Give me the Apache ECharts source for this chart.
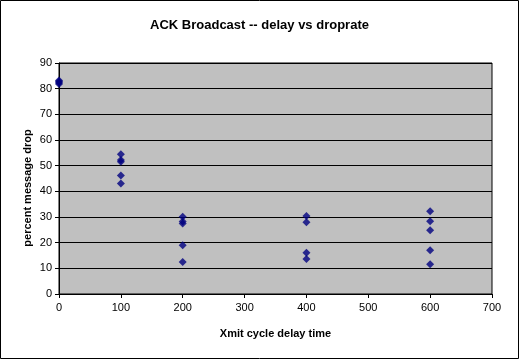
<!DOCTYPE html>
<html><head><meta charset="utf-8">
<script src="https://cdn.jsdelivr.net/npm/echarts@6/dist/echarts.min.js"></script>
<style>html,body{margin:0;padding:0;background:#fff}#c{width:519px;height:359px}</style>
</head><body><div id="c"></div>
<script>
const xs0 = [0, 0, 0, 0];
const ys0 = [81.8, 82.3, 82.8, 83.2];
const xs100 = [100, 100, 100, 100, 100];
const ys100 = [54.4, 52.2, 51.5, 46.2, 43.1];
const xs200 = [200, 200, 200, 200, 200];
const ys200 = [30.1, 28.2, 27.5, 19.0, 12.5];
const xs400 = [400, 400, 400, 400];
const ys400 = [30.4, 28.0, 16.1, 13.6];
const xs600 = [600, 600, 600, 600, 600];
const ys600 = [32.2, 28.3, 24.8, 17.0, 11.6];
const titleText = 'ACK Broadcast -- delay vs droprate';
const xTitle = 'Xmit cycle delay time';
const yTitle = 'percent message drop';

const pts = [];
[[xs0,ys0],[xs100,ys100],[xs200,ys200],[xs400,ys400],[xs600,ys600]].forEach(([a,b])=>{
  a.forEach((x,i)=>pts.push([x,b[i]]));
});
const F = 'Liberation Sans, Arial, sans-serif';
const chart = echarts.init(document.getElementById('c'), null, {renderer:'canvas'});
chart.setOption({
  animation:false,
  backgroundColor:'#fff',
  title:{text:titleText,left:'center',top:14,textStyle:{fontFamily:F,fontSize:13,fontWeight:'bold',color:'#000'}},
  grid:{left:59,right:27,top:63,bottom:65,show:true,backgroundColor:'#C0C0C0',borderColor:'#000',borderWidth:1},
  xAxis:{type:'value',min:0,max:700,interval:100,
    name:xTitle,nameLocation:'middle',nameGap:34,
    nameTextStyle:{fontFamily:F,fontSize:11,fontWeight:'bold',color:'#000'},
    axisLine:{show:true,onZero:false,lineStyle:{color:'#000',width:1}},
    axisTick:{show:true,length:4,lineStyle:{color:'#000'}},
    axisLabel:{fontFamily:F,fontSize:11,color:'#000',margin:8},
    splitLine:{show:false}},
  yAxis:{type:'value',min:0,max:90,interval:10,
    axisLine:{show:true,lineStyle:{color:'#000',width:1}},
    axisTick:{show:true,length:4,lineStyle:{color:'#000'}},
    axisLabel:{fontFamily:F,fontSize:11,color:'#000',margin:7},
    splitLine:{show:true,lineStyle:{color:'#000',width:1}}},
  series:[{type:'scatter',data:pts,symbol:'diamond',symbolSize:8,itemStyle:{color:'#000080'}}],
  graphic:[
    {type:'rect',shape:{x:0.5,y:0.5,width:518,height:358},style:{fill:'none',stroke:'#000',lineWidth:1},silent:true},
    {type:'text',x:28,y:188,rotation:Math.PI/2,silent:true,
     style:{text:yTitle,fontFamily:F,fontSize:11,fontWeight:'bold',fill:'#000',align:'center',verticalAlign:'middle'}}
  ]
});
</script></body></html>
